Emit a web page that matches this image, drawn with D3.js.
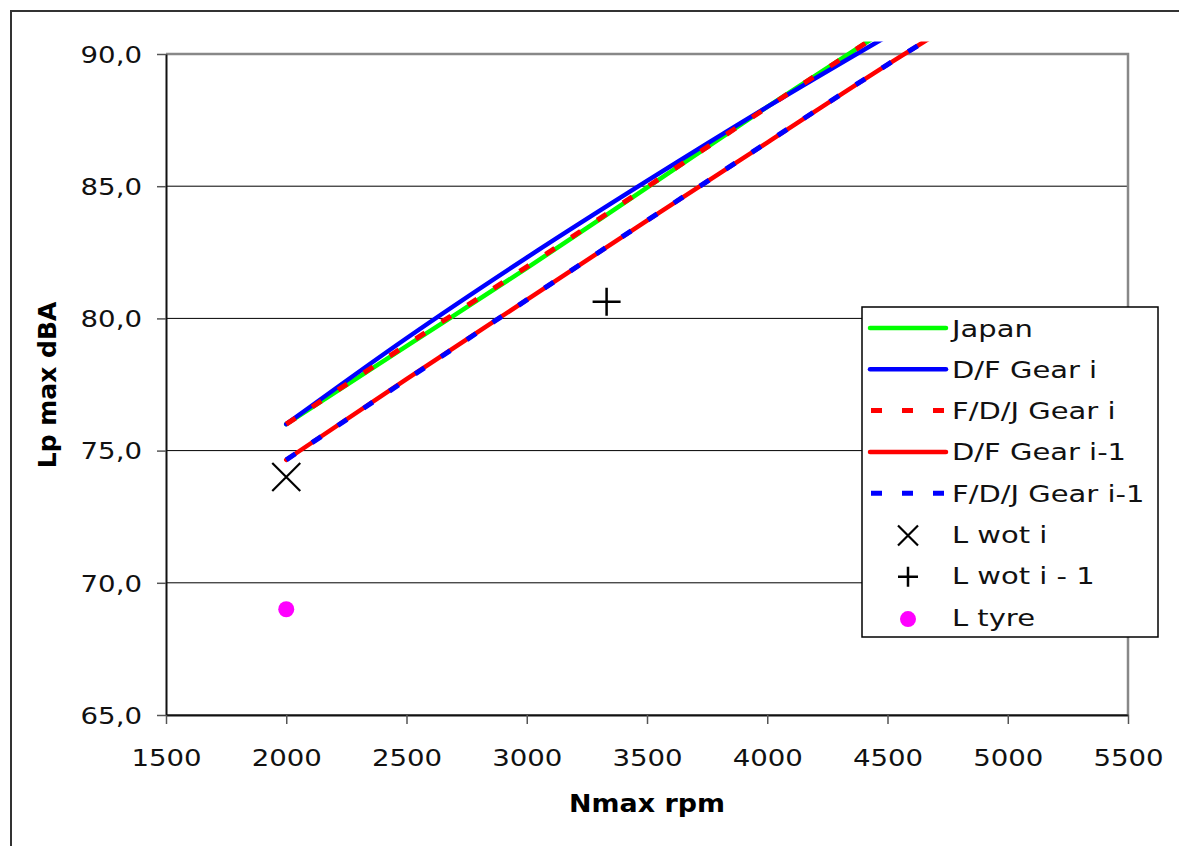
<!DOCTYPE html>
<html>
<head>
<meta charset="utf-8">
<script src="https://cdn.jsdelivr.net/npm/d3@7"></script>
<style>
  body { margin: 0; background: #fff; }
  svg { display: block; font-family: "DejaVu Sans", Verdana, sans-serif; }
</style>
</head>
<body>
<svg id="chart" width="1179" height="846"></svg>
<script>
// --- data ---
const rpmGearI = [2000, 2500, 3000, 3500, 4000, 4440];
const lpJapan = [76.0, 78.95, 81.9, 84.95, 88.0, 90.6];
const rpmDFGearI = [2000, 2500, 3000, 3500, 4000, 4485];
const lpDFGearI = [76.0, 79.25, 82.3, 85.2, 88.0, 90.6];
const lpFDJGearI = [76.0, 79.0, 81.95, 84.97, 87.98, 90.6];
const rpmGearI1 = [2000, 2500, 3000, 3500, 4000, 4500, 4685];
const lpDFGearI1 = [74.65, 77.7, 80.7, 83.7, 86.65, 89.6, 90.65];
const lpFDJGearI1 = [74.65, 77.68, 80.7, 83.7, 86.66, 89.6, 90.65];

const lWotI = [[2000, 74.0]];
const lWotI1 = [[3332, 80.63]];
const lTyre = [[2000, 69.0]];

const xTicks = [1500, 2000, 2500, 3000, 3500, 4000, 4500, 5000, 5500];
const yTicks = [65, 70, 75, 80, 85, 90];
const legendLabels = ["Japan", "D/F Gear i", "F/D/J Gear i", "D/F Gear i-1", "F/D/J Gear i-1", "L wot i", "L wot i - 1", "L tyre"];

const zip = (xs, ys) => xs.map((x, i) => [x, ys[i]]);

// line series, drawn in legend order
const lineSeries = [
  { pts: zip(rpmGearI, lpJapan), color: "#00ff00", dash: null },
  { pts: zip(rpmDFGearI, lpDFGearI), color: "#0000ff", dash: null },
  { pts: zip(rpmGearI, lpFDJGearI), color: "#ff0000", dash: "11,20" },
  { pts: zip(rpmGearI1, lpDFGearI1), color: "#ff0000", dash: null },
  { pts: zip(rpmGearI1, lpFDJGearI1), color: "#0000ff", dash: "11,20" }
];

const svg = d3.select("#chart");
const SX = 1.2; // the original text is stretched sideways

// chart area frame (cut off at right/bottom)
svg.append("rect")
  .attr("x", 11).attr("y", 11).attr("width", 1300).attr("height", 1000)
  .attr("fill", "#fff").attr("stroke", "#333").attr("stroke-width", 2);

const x = d3.scaleLinear().domain([1500, 5500]).range([166, 1128]);
const y = d3.scaleLinear().domain([65, 90]).range([715, 54]);

// gridlines
svg.append("g")
  .selectAll("line")
  .data(yTicks.filter(d => d < 90))
  .join("line")
  .attr("x1", x(1500)).attr("x2", x(5500))
  .attr("y1", d => y(d)).attr("y2", d => y(d))
  .attr("stroke", "#000").attr("stroke-width", 1);

// plot area top/right border (gray)
svg.append("path")
  .attr("d", `M${x(1500)},${y(90)}H${x(5500)}V${y(65)}`)
  .attr("fill", "none").attr("stroke", "#888").attr("stroke-width", 2.5);

// axes
const yAxis = svg.append("g")
  .attr("transform", `translate(${x(1500)},0)`)
  .call(d3.axisLeft(y).tickValues(yTicks).tickSize(9).tickSizeOuter(0)
    .tickFormat(d => d.toFixed(1).replace(".", ",")));
const xAxis = svg.append("g")
  .attr("transform", `translate(0,${y(65)})`)
  .call(d3.axisBottom(x).tickValues(xTicks).tickSize(9).tickSizeOuter(0)
    .tickFormat(d3.format("d")));

[yAxis, xAxis].forEach(g => {
  g.select(".domain").attr("stroke", "#111").attr("stroke-width", 2);
  g.selectAll(".tick line").attr("stroke", "#555").attr("stroke-width", 1.5);
  g.selectAll("text").attr("fill", "#111")
    .style("font-size", "23px").style("font-family", "'DejaVu Sans', Verdana, sans-serif");
});
yAxis.selectAll(".tick text")
  .attr("x", null).attr("dy", "0.36em")
  .attr("text-anchor", "end")
  .attr("transform", `translate(-24,0) scale(${SX},1)`);
xAxis.selectAll(".tick text")
  .attr("y", null).attr("dy", null)
  .attr("transform", `translate(0,51) scale(${SX},1)`);

// axis titles
svg.append("text")
  .attr("transform", `translate(56,385) rotate(-90)`)
  .attr("text-anchor", "middle")
  .style("font-size", "25px").style("font-weight", "bold")
  .text("Lp max dBA");
svg.append("text")
  .attr("transform", `translate(647,812) scale(1.12,1)`)
  .attr("text-anchor", "middle")
  .style("font-size", "24px").style("font-weight", "bold")
  .text("Nmax rpm");

// lines, clipped a little above the plot area like the original
svg.append("clipPath").attr("id", "clip")
  .append("rect").attr("x", 0).attr("y", 41.5).attr("width", 1179).attr("height", 800);

const line = d3.line().x(d => x(d[0])).y(d => y(d[1])).curve(d3.curveMonotoneX);

svg.append("g").attr("clip-path", "url(#clip)")
  .selectAll("path")
  .data(lineSeries)
  .join("path")
  .attr("d", d => line(d.pts))
  .attr("fill", "none")
  .attr("stroke", d => d.color)
  .attr("stroke-width", d => d.dash ? 5 : 4.5)
  .attr("stroke-dasharray", d => d.dash)
  .attr("stroke-linecap", d => d.dash ? "butt" : "round");

// point markers
const cross = (g, s) => g.append("path")
  .attr("d", `M${-s},${-s}L${s},${s}M${-s},${s}L${s},${-s}`)
  .attr("stroke", "#000").attr("stroke-width", 2.2).attr("fill", "none");
const plus = (g, s) => g.append("path")
  .attr("d", `M${-s},0H${s}M0,${-s}V${s}`)
  .attr("stroke", "#000").attr("stroke-width", 2.5).attr("fill", "none");
const dot = (g, r) => g.append("circle").attr("r", r).attr("fill", "#ff00ff");

lWotI.forEach(p => cross(svg.append("g").attr("transform", `translate(${x(p[0])},${y(p[1])})`), 14));
lWotI1.forEach(p => plus(svg.append("g").attr("transform", `translate(${x(p[0])},${y(p[1])})`), 14));
lTyre.forEach(p => dot(svg.append("g").attr("transform", `translate(${x(p[0])},${y(p[1])})`), 8));

// legend
const legend = svg.append("g");
legend.append("rect")
  .attr("x", 862).attr("y", 307).attr("width", 296).attr("height", 330)
  .attr("fill", "#fff").attr("stroke", "#000").attr("stroke-width", 1.5);

legendLabels.forEach((label, i) => {
  const cy = 328 + i * 41.3;
  const row = legend.append("g").attr("transform", `translate(0,${cy})`);
  if (i < lineSeries.length) {
    const s = lineSeries[i];
    row.append("line")
      .attr("x1", s.dash ? 871 : 870).attr("x2", s.dash ? 944 : 946)
      .attr("stroke", s.color)
      .attr("stroke-width", s.dash ? 5 : 4.5)
      .attr("stroke-dasharray", s.dash)
      .attr("stroke-linecap", s.dash ? "butt" : "round");
  } else {
    const m = row.append("g").attr("transform", `translate(908,${i === 7 ? 2 : 1})`);
    if (i === 5) cross(m, 10);
    else if (i === 6) plus(m, 10);
    else dot(m, 8);
  }
  row.append("text")
    .attr("transform", `translate(952,8.5) scale(1.26,1)`)
    .style("font-size", "23px").attr("fill", "#111")
    .text(label);
});
</script>
</body>
</html>
